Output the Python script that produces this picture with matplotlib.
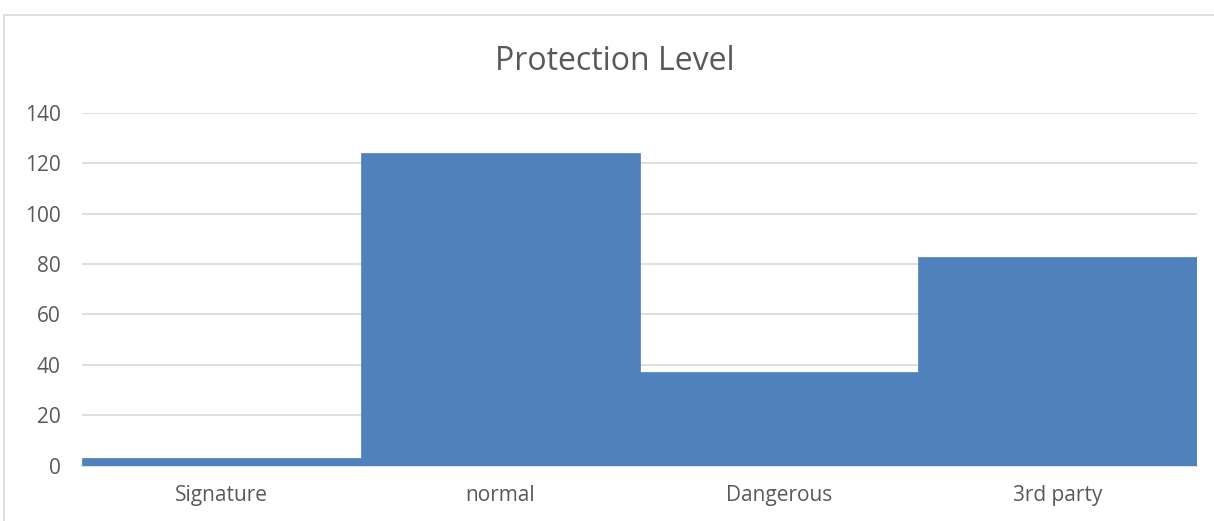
import matplotlib
matplotlib.use("Agg")
import matplotlib.pyplot as plt
from matplotlib.patches import Rectangle

categories = ["Signature", "normal", "Dangerous", "3rd party"]
counts = [3, 124, 37, 83]
y_ticks = [0, 20, 40, 60, 80, 100, 120, 140]

W, H = 1214, 521
fig = plt.figure(figsize=(W / 100, H / 100), dpi=100)
fig.patch.set_facecolor("white")

# chart-area border (runs off the right and bottom edges)
fig.patches.append(Rectangle((4 / W, -0.05), 1.2, 1 - 15 / H + 0.05,
                             transform=fig.transFigure, fill=False,
                             edgecolor="#d9d9d9", linewidth=1.2))

ax = fig.add_axes([82 / W, 1 - 465.5 / H, (1197 - 82) / W, (465.5 - 113) / H])
ax.bar(range(len(categories)), counts, width=1.0, color="#4f81bd",
       edgecolor="#4f81bd", linewidth=0.5, zorder=3)

ax.set_xlim(-0.5, len(categories) - 0.5)
ax.set_ylim(0, 140)
ax.set_yticks(y_ticks)
ax.set_xticks(range(len(categories)))
ax.set_xticklabels(categories)
ax.grid(axis="y", color="#d9d9d9", linewidth=1.2, zorder=0)
for s in ["left", "right", "top"]:
    ax.spines[s].set_visible(False)
ax.spines["bottom"].set_color("#d9d9d9")
ax.spines["bottom"].set_linewidth(1.2)
ax.tick_params(axis="both", length=0, colors="#595959", labelsize=15)
ax.tick_params(axis="y", pad=15.5)
ax.tick_params(axis="x", pad=14)
for lbl in ax.get_xticklabels() + ax.get_yticklabels():
    lbl.set_fontfamily("Open Sans")

fig.text(615 / W, 1 - 61 / H, "Protection Level", ha="center", va="center",
         fontsize=23, color="#595959", fontfamily="Open Sans")

fig.savefig("out.png", dpi=100)
